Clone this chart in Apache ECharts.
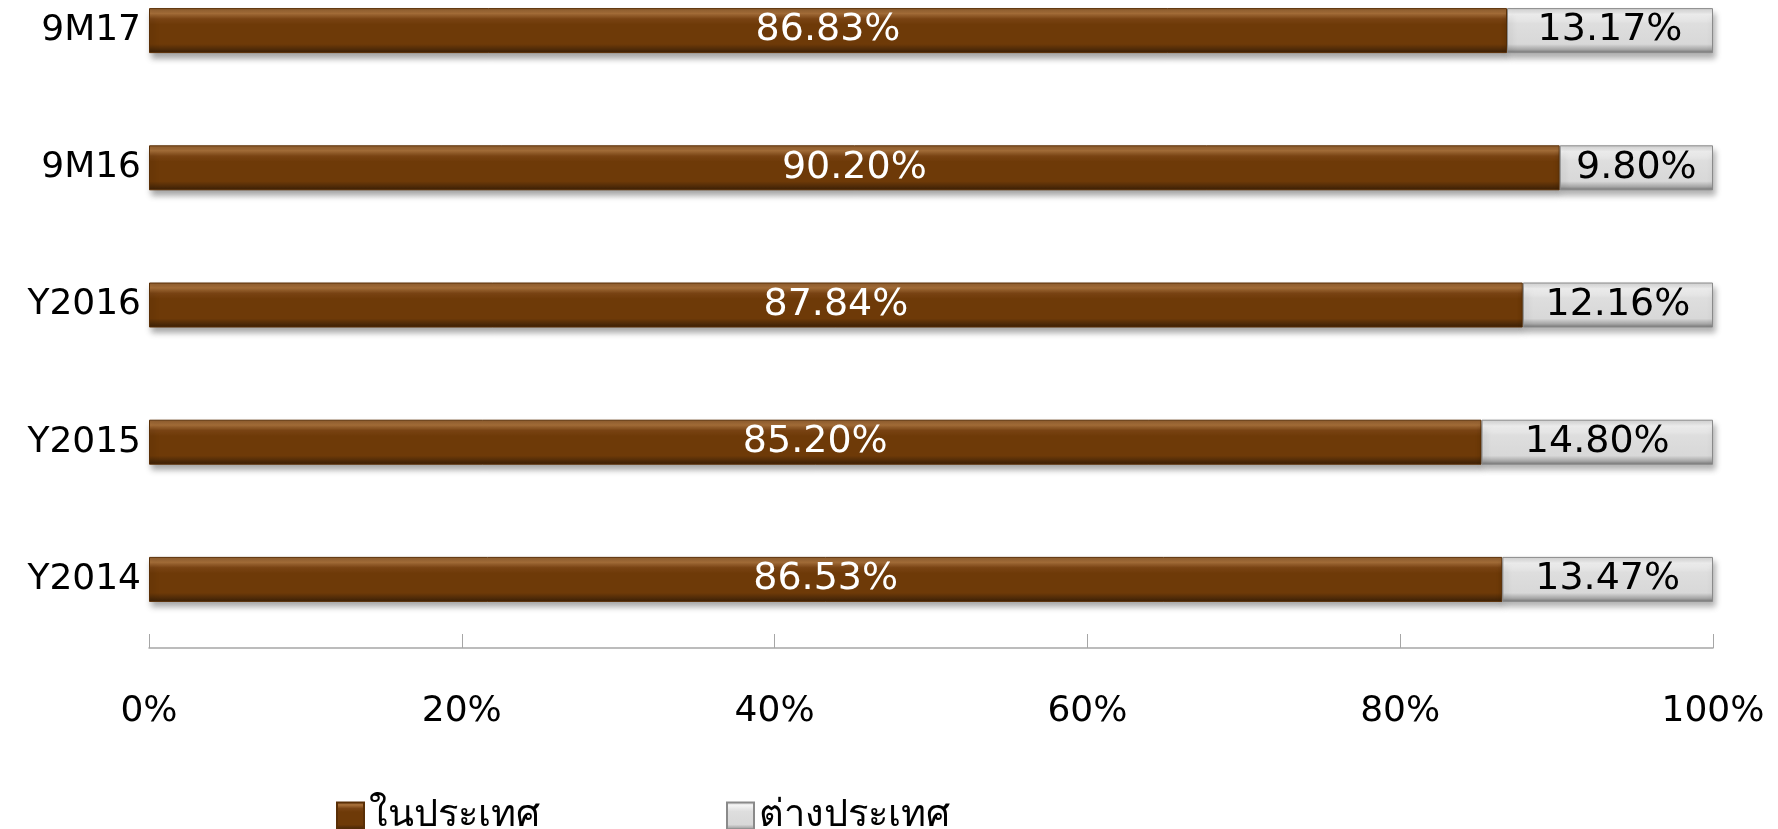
<!DOCTYPE html>
<html>
<head>
<meta charset="utf-8">
<title>ในประเทศ / ต่างประเทศ</title>
<script src="https://cdn.jsdelivr.net/npm/echarts@6/dist/echarts.min.js"></script>
<style>
  html, body { margin: 0; padding: 0; background: #fff; overflow: hidden; }
  /* the first bar sits above the top of the picture, so the chart starts 38px higher */
  #chart { position: absolute; left: 0; top: -38px; width: 1778px; height: 867px; }
</style>
</head>
<body>
<div id="chart"></div>
<script>
// ข้อมูล (bottom to top, as the category axis draws them)
var categories = ['Y2014', 'Y2015', 'Y2016', '9M16', '9M17'];
var domestic = [86.53, 85.20, 87.84, 90.20, 86.83];
var foreign = [13.47, 14.80, 12.16, 9.80, 13.17];
var seriesNames = ['ในประเทศ', 'ต่างประเทศ'];
var xTicks = [0, 20, 40, 60, 80, 100];

var font = '"DejaVu Sans", "Noto Sans", sans-serif';

// bevelled brown
var brown = new echarts.graphic.LinearGradient(0, 0, 0, 1, [
  { offset: 0, color: '#8a5a2c' },
  { offset: 0.12, color: '#a8703a' },
  { offset: 0.24, color: '#7a4414' },
  { offset: 0.36, color: '#6e3a08' },
  { offset: 0.8, color: '#6e3a08' },
  { offset: 0.92, color: '#4e2a08' },
  { offset: 1, color: '#3a1f06' }
]);
// bevelled grey
var grey = new echarts.graphic.LinearGradient(0, 0, 0, 1, [
  { offset: 0, color: '#cfcfcf' },
  { offset: 0.14, color: '#f4f4f4' },
  { offset: 0.34, color: '#dedede' },
  { offset: 0.8, color: '#d8d8d8' },
  { offset: 0.92, color: '#a6a6a6' },
  { offset: 1, color: '#707070' }
]);

var chart = echarts.init(document.getElementById('chart'));

var option = {
  backgroundColor: '#fff',
  animation: false,
  grid: { left: 149, right: 65, top: 0, bottom: 181, containLabel: false },
  legend: {
    left: 331, top: 830,
    icon: 'rect',
    itemWidth: 27, itemHeight: 27, itemGap: 186,
    textStyle: { fontFamily: font, fontSize: 38, color: '#000' },
    data: seriesNames
  },
  xAxis: {
    type: 'value', min: 0, max: 100, interval: 20,
    axisLine: { show: true, lineStyle: { color: '#a6a6a6', width: 1.5 } },
    axisTick: { show: true, inside: true, length: 14, lineStyle: { color: '#a6a6a6' } },
    splitLine: { show: false },
    axisLabel: {
      margin: 46, color: '#000', fontFamily: font, fontSize: 36,
      formatter: function (v) { return xTicks.indexOf(v) >= 0 ? v + '%' : ''; }
    }
  },
  yAxis: {
    type: 'category', data: categories,
    axisLine: { show: false }, axisTick: { show: false },
    axisLabel: { margin: 8, color: '#000', fontFamily: font, fontSize: 36 }
  },
  series: [
    {
      name: seriesNames[0], type: 'bar', stack: 'total', barWidth: 45,
      data: domestic,
      itemStyle: {
        color: brown, borderColor: '#5a2f06', borderWidth: 1,
        shadowColor: 'rgba(0,0,0,0.35)', shadowBlur: 6, shadowOffsetX: 2, shadowOffsetY: 5
      },
      label: {
        show: true, position: 'inside', color: '#fff',
        fontFamily: font, fontSize: 38,
        formatter: function (p) { return p.value.toFixed(2) + '%'; }
      }
    },
    {
      name: seriesNames[1], type: 'bar', stack: 'total', barWidth: 45,
      data: foreign,
      itemStyle: {
        color: grey, borderColor: '#8a8a8a', borderWidth: 1,
        shadowColor: 'rgba(0,0,0,0.3)', shadowBlur: 6, shadowOffsetX: 2, shadowOffsetY: 5
      },
      label: {
        show: true, position: 'inside', color: '#000',
        fontFamily: font, fontSize: 38,
        formatter: function (p) { return p.value.toFixed(2) + '%'; }
      }
    }
  ]
};

chart.setOption(option);
window.addEventListener('resize', function () {
  chart.resize();
});
</script>
</body>
</html>
